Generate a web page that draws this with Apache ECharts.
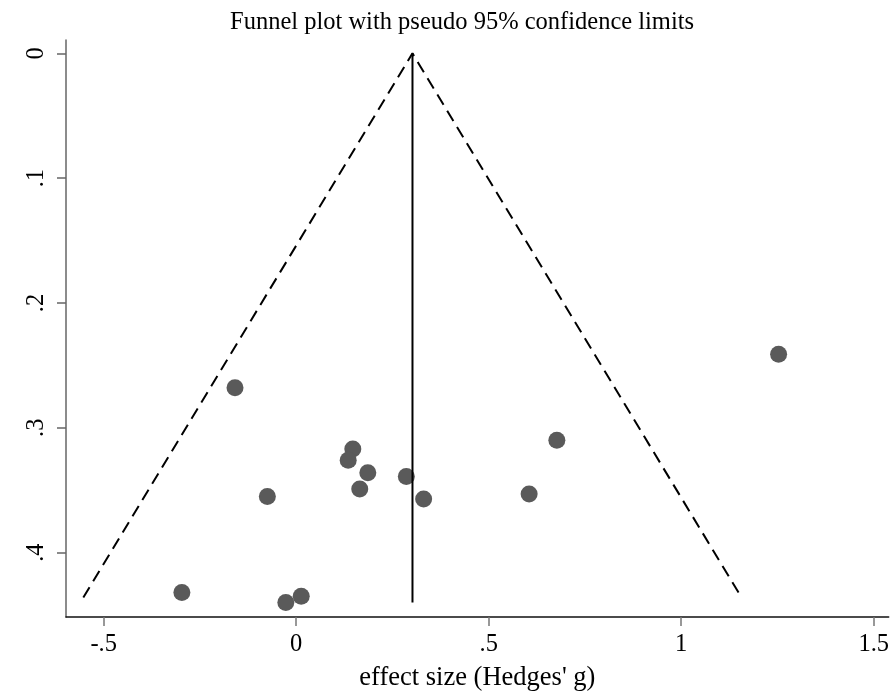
<!DOCTYPE html>
<html>
<head>
<meta charset="utf-8">
<script src="https://cdn.jsdelivr.net/npm/echarts@6/dist/echarts.min.js"></script>
<style>
html,body{margin:0;padding:0;background:#fff;}
#chart{width:892px;height:697px;}
</style>
</head>
<body>
<div id="chart"></div>
<script>
// Study effect sizes (Hedges' g) and their standard errors
var effectSizes    = [-0.159, -0.075, 0.147, 0.135, 0.186, 0.165, 0.286, 0.331, 0.677, 0.605, -0.297, -0.027, 0.013, 1.253];
var standardErrors = [ 0.268,  0.355, 0.317, 0.326, 0.336, 0.349, 0.339, 0.357, 0.310, 0.353,  0.432,  0.440, 0.435, 0.241];
// Pseudo 95% confidence limits (funnel vertices)
var funnelX = [-0.553, 0.302, 1.157];
var funnelY = [0.436, 0.000, 0.436];
// Pooled effect line
var pooledX = [0.302, 0.302];
var pooledY = [0.000, 0.440];
// Tick labels
var xTicks = [-0.5, 0, 0.5, 1, 1.5];
var yTicks = [0, 0.1, 0.2, 0.3, 0.4];

function fmt(v){
  var s = String(Math.round(v*1000)/1000);
  return s.replace(/^(-?)0\./, '$1.');
}

var points = effectSizes.map(function(x,i){ return [x, standardErrors[i]]; });
var funnel = funnelX.map(function(x,i){ return [x, funnelY[i]]; });
var pooled = pooledX.map(function(x,i){ return [x, pooledY[i]]; });

var FONT = 'Liberation Serif';
var FS = 24.5;
var chart = echarts.init(document.getElementById('chart'), null, {renderer:'canvas'});
chart.setOption({
  animation:false,
  backgroundColor:'#fff',
  title:{
    text:'Funnel plot with pseudo 95% confidence limits',
    left:225, top:5,
    textStyle:{fontFamily:FONT, fontSize:FS, fontWeight:'normal', color:'#000'}
  },
  grid:{left:66, right:2, top:40, bottom:80, containLabel:false},
  xAxis:{
    type:'value', min:-0.598, max:1.539,
    name:"effect size (Hedges' g)", nameLocation:'middle', nameGap:48,
    nameTextStyle:{fontFamily:FONT, fontSize:26.5, color:'#000'},
    axisLine:{show:true, onZero:false, lineStyle:{color:'#111', width:1.5}},
    axisTick:{show:true, length:9, customValues:xTicks, lineStyle:{color:'#777', width:1.5}},
    axisLabel:{customValues:xTicks, formatter:fmt, margin:15, fontFamily:FONT, fontSize:FS, color:'#000'},
    splitLine:{show:false}
  },
  yAxis:{
    type:'value', inverse:true, min:-0.0107, max:0.4516,
    axisLine:{show:true, onZero:false, lineStyle:{color:'#666', width:1.5}},
    axisTick:{show:true, length:9, customValues:yTicks, lineStyle:{color:'#666', width:1.5}},
    axisLabel:{customValues:yTicks, formatter:fmt, rotate:90, margin:17, fontFamily:FONT, fontSize:FS, color:'#000'},
    splitLine:{show:false}
  },
  series:[
    {type:'line', data:funnel, symbol:'none', silent:true,
     lineStyle:{color:'#000', width:2, type:[12,7]}},
    {type:'line', data:pooled, symbol:'none', silent:true,
     lineStyle:{color:'#000', width:2}},
    {type:'scatter', data:points, symbol:'circle', symbolSize:17,
     itemStyle:{color:'#5a5a5a', opacity:1}}
  ]
});
</script>
</body>
</html>
